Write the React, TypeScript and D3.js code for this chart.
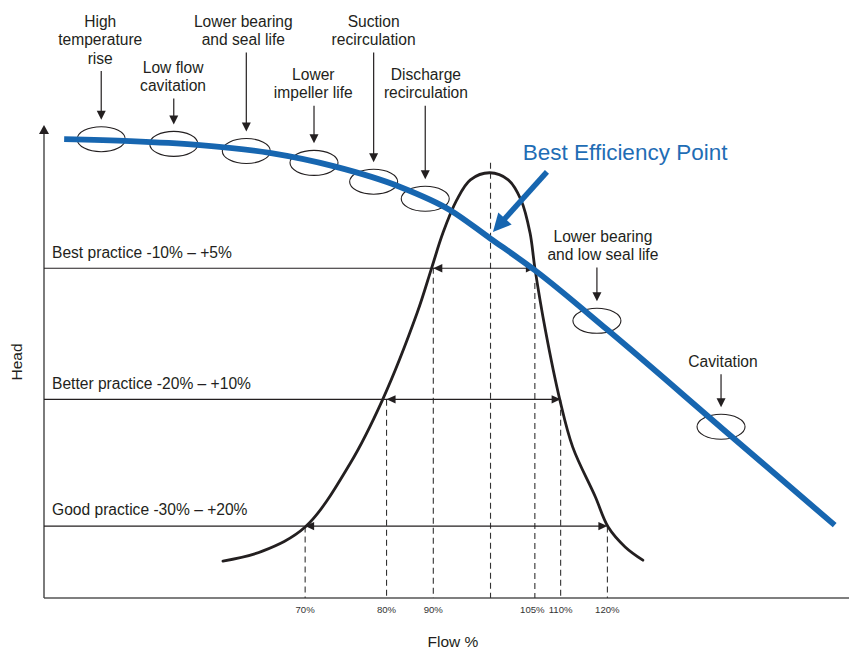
import React from "react";
import * as d3 from "d3";

const W = 850;
const H = 649;

// Chart units: x 0–100 along the flow axis, y 0–100 along the head axis (schematic chart)
const headX = [2.5, 10.7, 19.0, 28.0, 35.9, 44.2, 50.4, 55.3, 60.9, 69.9, 84.1, 98.1];
const headY = [97.0, 96.6, 95.8, 94.1, 91.3, 86.9, 82.0, 76.1, 69.3, 56.7, 35.9, 15.4];

const effX = [22.2, 27.1, 32.4, 38.0, 42.0, 46.3, 48.1, 49.5, 51.2, 52.9, 55.3, 57.6, 59.2, 60.3, 60.9, 62.2, 64.0, 65.6, 68.4, 70.0, 72.1, 74.3];
const effY = [7.8, 9.9, 15.0, 28.5, 41.9, 60.3, 69.8, 77.2, 84.1, 88.4, 89.9, 88.4, 84.1, 77.2, 69.8, 56.7, 41.9, 31.9, 21.4, 15.0, 10.8, 8.0];

// Flow ticks (schematic, non-linear positions along the axis)
const flowTicks = [70, 80, 90, 100, 105, 110, 120];
const flowTickPos = [32.4, 42.5, 48.3, 55.4, 60.9, 64.1, 69.9];
const flowTickLabels = ["70%", "80%", "90%", "", "105%", "110%", "120%"];
const flowTickLabelDx = [0, 0, 0, 0, -2.5, 0, 0];
const dashTop = [15.1, 41.9, 69.8, 92.0, 66.6, 41.9, 15.1];

// Operating bands
const bandLabels = ["Best practice -10% – +5%", "Better practice -20% – +10%", "Good practice -30% – +20%"];
const bandHead = [69.7, 42.0, 15.2];
const bandLow = [90, 80, 70];
const bandHigh = [105, 110, 120];

// Problem zones along the head curve
const issueLabels = [
  ["High", "temperature", "rise"],
  ["Low flow", "cavitation"],
  ["Lower bearing", "and seal life"],
  ["Lower", "impeller life"],
  ["Suction", "recirculation"],
  ["Discharge", "recirculation"],
  ["Lower bearing", "and low seal life"],
  ["Cavitation"],
];
const issueX = [7.1, 16.1, 25.1, 33.5, 40.9, 47.3, 68.6, 84.0];
const issueY = [97.0, 96.0, 94.5, 92.0, 88.0, 84.4, 58.6, 36.2];
// layout: label first-line baseline (px) and horizontal offset of label from marker
const issueLabelTop = [27, 72.7, 26.7, 80, 26.7, 80, 241.7, 366.7];
const issueLabelDx = [-1, -0.7, -3, -0.7, 0, 0.7, 6, 2];

const bepLabel = "Best Efficiency Point";
const bepArrowFrom = [62.4, 90.1];
const bepArrowTo = [55.7, 77.4];
const bepLabelPos = [59.4, 92.6];

const FONT = "'Liberation Sans', Arial, Helvetica, sans-serif";
const INK = "#231f20";
const BLUE = "#1766b0";

function arrowHead(tx: number, ty: number, fx: number, fy: number, len: number, hw: number) {
  const a = Math.atan2(ty - fy, tx - fx);
  const bx = tx - len * Math.cos(a);
  const by = ty - len * Math.sin(a);
  const px = -Math.sin(a) * hw;
  const py = Math.cos(a) * hw;
  return `M${tx},${ty}L${bx + px},${by + py}L${bx - px},${by - py}Z`;
}

export default function App() {
  const x = d3.scaleLinear().domain([0, 100]).range([44, 850]);
  const y = d3.scaleLinear().domain([0, 100]).range([598, 125]);
  const flowX = d3.scaleLinear().domain(flowTicks).range(flowTickPos.map((p) => x(p)));

  const headPath = d3
    .line<number>()
    .x((d) => x(d))
    .y((_, i) => y(headY[i]))
    .curve(d3.curveMonotoneX)(headX) as string;

  const effPath = d3
    .line<number>()
    .x((d) => x(d))
    .y((_, i) => y(effY[i]))
    .curve(d3.curveCatmullRom.alpha(0.5))(effX) as string;

  const x0 = x(0);
  const y0 = y(0);
  const lineH = 18.3;

  // BEP arrow
  const bx1 = x(bepArrowFrom[0]);
  const by1 = y(bepArrowFrom[1]);
  const bx2 = x(bepArrowTo[0]);
  const by2 = y(bepArrowTo[1]);
  const ba = Math.atan2(by2 - by1, bx2 - bx1);
  const bepHeadLen = 18;

  return (
    <svg
      width={W}
      height={H}
      viewBox={`0 0 ${W} ${H}`}
      style={{ position: "absolute", left: 0, top: 0, background: "#fff" }}
      fontFamily={FONT}
    >
      <rect x={0} y={0} width={W} height={H} fill="#fff" />

      {/* axes */}
      <line x1={x0} y1={y0} x2={W - 1} y2={y0} stroke="#555" strokeWidth={1.6} />
      <line x1={x0} y1={y0} x2={x0} y2={y(100) + 8} stroke="#444" strokeWidth={1.4} />
      <path d={arrowHead(x0, y(100), x0, y0, 9, 5)} fill={INK} />

      {/* vertical dashed lines */}
      {flowTicks.map((f, i) => (
        <line
          key={"d" + f}
          x1={flowX(f)}
          x2={flowX(f)}
          y1={y(dashTop[i])}
          y2={y0}
          stroke="#333"
          strokeWidth={1.1}
          strokeDasharray="6,4"
        />
      ))}

      {/* tick labels */}
      {flowTicks.map((f, i) => (
        <text
          key={"t" + f}
          x={flowX(f) + flowTickLabelDx[i]}
          y={613}
          textAnchor="middle"
          fontSize={9.6}
          fill="#333"
        >
          {flowTickLabels[i]}
        </text>
      ))}

      {/* practice bands */}
      {bandLabels.map((lab, i) => {
        const yy = y(bandHead[i]);
        const lx = flowX(bandLow[i]);
        const rx = flowX(bandHigh[i]);
        return (
          <g key={"b" + i}>
            <line x1={x0} x2={rx - 6} y1={yy} y2={yy} stroke={INK} strokeWidth={1.1} />
            <path d={arrowHead(lx, yy, rx, yy, 9, 4.2)} fill={INK} />
            <path d={arrowHead(rx, yy, lx, yy, 9, 4.2)} fill={INK} />
            <text x={52} y={yy - 10.8} fontSize={15.6} fill={INK}>
              {lab}
            </text>
          </g>
        );
      })}

      {/* efficiency curve */}
      <path d={effPath} fill="none" stroke={INK} strokeWidth={2.8} strokeLinecap="round" />

      {/* problem zone markers */}
      {issueLabels.map((lines, i) => {
        const cx = x(issueX[i]);
        const cy = y(issueY[i]);
        const tipY = cy - 12.5 - 7;
        const startY = issueLabelTop[i] + (lines.length - 1) * lineH + 7.5;
        return (
          <g key={"e" + i}>
            <ellipse cx={cx} cy={cy} rx={24} ry={12.5} fill="none" stroke={INK} strokeWidth={1.1} />
            <line x1={cx} x2={cx} y1={startY} y2={tipY - 6} stroke={INK} strokeWidth={1.2} />
            <path d={arrowHead(cx, tipY, cx, startY, 9, 4.5)} fill={INK} />
            {lines.map((t, j) => (
              <text
                key={j}
                x={cx + issueLabelDx[i]}
                y={issueLabelTop[i] + j * lineH}
                textAnchor="middle"
                fontSize={15.6}
                fill={INK}
              >
                {t}
              </text>
            ))}
          </g>
        );
      })}

      {/* head curve */}
      <path d={headPath} fill="none" stroke={BLUE} strokeWidth={5.8} />

      {/* BEP arrow + label */}
      <line
        x1={bx1}
        y1={by1}
        x2={bx2 - (bepHeadLen - 2) * Math.cos(ba)}
        y2={by2 - (bepHeadLen - 2) * Math.sin(ba)}
        stroke={BLUE}
        strokeWidth={5.5}
      />
      <path d={arrowHead(bx2, by2, bx1, by1, bepHeadLen, 9)} fill={BLUE} />
      <text x={x(bepLabelPos[0])} y={y(bepLabelPos[1])} fontSize={22.5} fill="#1f6db5">
        {bepLabel}
      </text>

      {/* axis titles */}
      <text x={453} y={647} textAnchor="middle" fontSize={15.5} fill={INK}>
        Flow %
      </text>
      <text transform="translate(22,362) rotate(-90)" textAnchor="middle" fontSize={15.5} fill={INK}>
        Head
      </text>
    </svg>
  );
}
